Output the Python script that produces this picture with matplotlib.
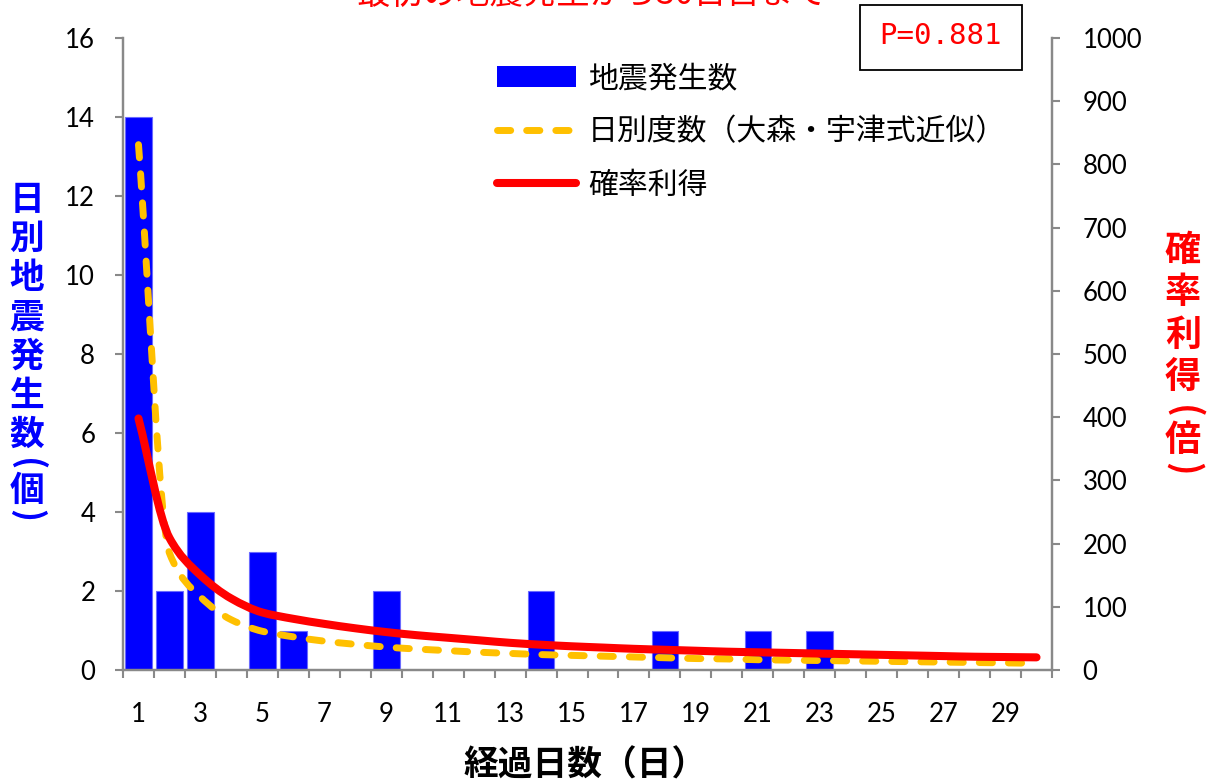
import numpy as np
import matplotlib
matplotlib.use("Agg")
import matplotlib.pyplot as plt
from matplotlib.path import Path
from matplotlib.patches import PathPatch, Patch, Rectangle
from matplotlib.lines import Line2D

JP_FONT = ["Noto Sans CJK JP", "DejaVu Sans"]
NUM_FONT = "Lato"

# daily counts and fitted curves
days = list(range(1, 31))
quake_counts = [14, 2, 4, 0, 3, 1, 0, 0, 2, 0, 0, 0, 0, 2, 0,
                0, 0, 1, 0, 0, 1, 0, 1, 0, 0, 0, 0, 0, 0, 0]
omori_fit = [13.3, 2.96, 1.85, 1.27, 0.98, 0.84, 0.73, 0.65, 0.58, 0.53,
             0.49, 0.45, 0.42, 0.39, 0.37, 0.35, 0.33, 0.31, 0.29, 0.28,
             0.26, 0.25, 0.24, 0.23, 0.22, 0.21, 0.20, 0.19, 0.18, 0.17]
prob_gain = [398, 209, 150, 113, 91, 81, 73, 66, 60, 55,
             51, 47, 43, 40, 37.5, 35.5, 33.5, 32, 30.5, 29,
             28, 27, 26, 25, 24, 23, 22, 21, 20.5, 20]

left_ticks = list(range(0, 17, 2))
right_ticks = list(range(0, 1001, 100))
day_labels = list(range(1, 30, 2))
p_value = "0.881"

AXIS_GRAY = "#898989"
BLUE = "#0000FF"
GOLD = "#FFC000"
RED = "#FF0000"


def smooth_path(x, y):
    # monotone cubic through the points, written as bezier segments
    x = np.asarray(x, float)
    y = np.asarray(y, float)
    h = np.diff(x)
    s = np.diff(y) / h
    m = np.empty_like(y)
    m[0], m[-1] = s[0], s[-1]
    for i in range(1, len(y) - 1):
        if s[i - 1] * s[i] <= 0:
            m[i] = 0.0
        else:
            m[i] = 2.0 / (1.0 / s[i - 1] + 1.0 / s[i])
    verts = [(x[0], y[0])]
    codes = [Path.MOVETO]
    for i in range(len(x) - 1):
        d = h[i] / 3.0
        verts += [(x[i] + d, y[i] + m[i] * d),
                  (x[i + 1] - d, y[i + 1] - m[i + 1] * d),
                  (x[i + 1], y[i + 1])]
        codes += [Path.CURVE4] * 3
    return Path(verts, codes)


W, H = 1215, 783
fig = plt.figure(figsize=(W / 100, H / 100), dpi=100)
ax = fig.add_axes([123 / W, 1 - 670 / H, (1052 - 123) / W, (670 - 38) / H])
ax2 = ax.twinx()

ax.bar(days, quake_counts, width=0.86, color=BLUE, edgecolor="#6a6aff",
       linewidth=0.8, zorder=2)

omori_patch = PathPatch(smooth_path(days, omori_fit), fill=False,
                        edgecolor=GOLD, linewidth=5, linestyle=(0, (1.9, 2.3)),
                        capstyle="round", joinstyle="round", zorder=3)
ax.add_patch(omori_patch)

gain_patch = PathPatch(smooth_path(days, prob_gain), fill=False,
                       edgecolor=RED, linewidth=5.8, capstyle="round",
                       joinstyle="round", zorder=3)
ax2.add_patch(gain_patch)

ax.set_xlim(0.5, 30.5)
ax.set_ylim(0, 16)
ax2.set_ylim(0, 1000)

ax.set_xticks(day_labels)
ax.set_xticklabels([str(d) for d in day_labels])
ax.set_xticks(np.arange(0.5, 31, 1), minor=True)
ax.tick_params(axis="x", which="major", length=0, pad=23, labelsize=18.5,
               labelfontfamily=NUM_FONT)
ax.tick_params(axis="x", which="minor", length=6, width=1.5,
               color=AXIS_GRAY, direction="out")

ax.set_yticks(left_ticks)
ax.tick_params(axis="y", length=6, width=1.5, color=AXIS_GRAY, pad=14,
               labelsize=18.5, labelfontfamily=NUM_FONT)
ax2.set_yticks(right_ticks)
ax2.tick_params(axis="y", length=6, width=1.5, color=AXIS_GRAY, pad=16,
                labelsize=18.5, labelfontfamily=NUM_FONT)

for a in (ax, ax2):
    a.spines["top"].set_visible(False)
    for side in ("left", "right", "bottom"):
        a.spines[side].set_color(AXIS_GRAY)
        a.spines[side].set_linewidth(1.75)
ax.spines["right"].set_visible(False)
ax2.spines["left"].set_visible(False)
ax2.spines["bottom"].set_visible(False)

# legend
handles = [
    Patch(facecolor=BLUE, edgecolor="none"),
    Line2D([], [], color=GOLD, linewidth=5, dashes=(1.9, 2.3),
           dash_capstyle="round"),
    Line2D([], [], color=RED, linewidth=5.8, solid_capstyle="round"),
]
labels = ["地震発生数", "日別度数（大森・宇津式近似）", "確率利得"]
fig.legend(handles, labels, loc="upper left",
           bbox_to_anchor=(482 / W, 1 - 48 / H), frameon=False,
           prop={"family": JP_FONT, "size": 21.5}, handlelength=2.65,
           handletextpad=0.4, labelspacing=0.75, borderpad=0)

# title, partly above the canvas edge
fig.text(592 / W, 1 - 4 / H, "最初の地震発生から30日目まで", color=RED,
         fontsize=24, family=JP_FONT, ha="center", va="baseline")

# p-value box
fig.patches.append(Rectangle((860 / W, 1 - 70 / H), 162 / W, 65 / H,
                             transform=fig.transFigure, facecolor="white",
                             edgecolor="black", linewidth=1.3))
fig.text(941 / W, 1 - 36 / H, "P=" + p_value, color=RED, fontsize=21,
         family="DejaVu Sans Mono", ha="center", va="center")

# x axis title
fig.text(585 / W, 1 - 765 / H, "経過日数（日）", fontsize=25,
         fontweight="bold", family=JP_FONT, ha="center", va="center")


def vertical_title(x, words, word_y, unit, paren_y, unit_y, color, size, ls):
    # stacked characters, unit in turned brackets underneath
    kw = dict(color=color, fontsize=size, fontweight="bold", family=JP_FONT,
              ha="center", va="center")
    fig.text(x / W, 1 - word_y / H, "\n".join(words),
             multialignment="center", linespacing=ls, **kw)
    fig.text(x / W, 1 - unit_y / H, unit, **kw)
    fig.text(x / W, 1 - paren_y[0] / H, "(", rotation=-90, **kw)
    fig.text(x / W, 1 - paren_y[1] / H, ")", rotation=-90, **kw)


vertical_title(27, "日別地震発生数", 317, "個", (465, 516), 490,
               BLUE, 25, 1.15)
vertical_title(1183, "確率利得", 314, "倍", (412, 469), 440,
               RED, 26, 1.18)

fig.savefig("out.png", dpi=100)
